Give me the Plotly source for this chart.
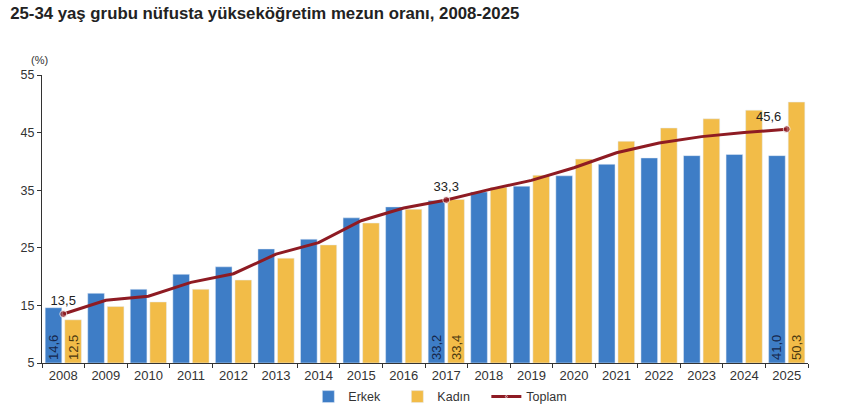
import plotly.graph_objects as go

years = [str(y) for y in range(2008, 2026)]
erkek = [14.6, 17.1, 17.8, 20.4, 21.7, 24.8, 26.5, 30.2, 32.1, 33.2, 34.7, 35.7, 37.5, 39.5, 40.6, 41.0, 41.2, 41.0]
kadin = [12.5, 14.8, 15.6, 17.8, 19.4, 23.2, 25.5, 29.3, 31.7, 33.4, 35.5, 37.6, 40.4, 43.5, 45.8, 47.4, 48.9, 50.3]
toplam = [13.5, 15.9, 16.6, 19.0, 20.5, 23.9, 25.9, 29.7, 31.9, 33.3, 35.1, 36.7, 38.9, 41.5, 43.2, 44.3, 45.0, 45.6]
labeled_years = {"2008", "2017", "2025"}
y_ticks = [5, 15, 25, 35, 45, 55]
axis_base = 5

def fmt(v):
    return f"{v:.1f}".replace(".", ",")

def lab(vals):
    return [fmt(v) if y in labeled_years else "" for y, v in zip(years, vals)]

FONT = "Liberation Sans, Arial, sans-serif"

line_pos = ["top center"] * len(years)
line_pos[-1] = "top left"

fig = go.Figure()
fig.add_trace(go.Bar(
    name="Erkek", x=years, y=[v - axis_base for v in erkek], base=axis_base,
    marker=dict(color="#3E7DC6"),
    text=lab(erkek), textposition="inside", insidetextanchor="start", textangle=-90,
    constraintext="none",
    textfont=dict(color="#16264a", size=13, family=FONT),
    customdata=erkek, hovertemplate="%{x}: %{customdata}<extra>Erkek</extra>",
))
fig.add_trace(go.Bar(
    name="Kadın", x=years, y=[v - axis_base for v in kadin], base=axis_base,
    marker=dict(color="#F2BC48"),
    text=lab(kadin), textposition="inside", insidetextanchor="start", textangle=-90,
    constraintext="none",
    textfont=dict(color="#4a3810", size=13, family=FONT),
    customdata=kadin, hovertemplate="%{x}: %{customdata}<extra>Kadın</extra>",
))
fig.add_trace(go.Scatter(
    name="Toplam", x=years, y=toplam, mode="lines+markers+text",
    line=dict(color="#8E1B23", width=3),
    marker=dict(color="#8E1B23", size=[7 if y in labeled_years else 0 for y in years]),
    text=lab(toplam), textposition=line_pos,
    textfont=dict(color="#222222", size=13, family=FONT),
    cliponaxis=False,
))

fig.update_layout(
    width=845, height=411,
    margin=dict(l=42, r=37, t=75, b=48, autoexpand=False),
    paper_bgcolor="white", plot_bgcolor="white",
    font=dict(family=FONT, size=12, color="#333333"),
    barmode="group", bargap=0.08, bargroupgap=0.15,
    uniformtext=dict(mode=False),
    title=dict(text="<b>25-34 yaş grubu nüfusta yükseköğretim mezun oranı, 2008-2025</b>",
               x=0.012, xanchor="left", y=0.968, yanchor="middle",
               font=dict(size=16.8, color="#222222", family=FONT)),
    showlegend=True,
    legend=dict(orientation="h", x=0.522, xanchor="center", y=-0.118, yanchor="middle",
                font=dict(size=12.5, color="#333333"), traceorder="normal",
                itemwidth=30, entrywidth=44, entrywidthmode="pixels"),
    annotations=[dict(text="(%)", xref="paper", yref="paper", x=-0.003, y=1.052,
                      xanchor="center", yanchor="middle", showarrow=False,
                      font=dict(size=11, color="#333333"))],
)
fig.update_xaxes(type="category", range=[-0.5, len(years) - 0.5], automargin=False,
                 showline=True, linecolor="#333333", linewidth=1,
                 ticks="outside", tickson="boundaries", ticklen=4, tickcolor="#333333",
                 showgrid=False, tickfont=dict(size=13, color="#333333"))
fig.update_yaxes(range=[5, 55], tickvals=y_ticks, automargin=False, showline=True,
                 linecolor="#333333", linewidth=1, ticks="outside", ticklen=4,
                 tickcolor="#333333", showgrid=False, zeroline=False,
                 tickfont=dict(size=12.5, color="#333333"))

fig.write_html("out.html")
